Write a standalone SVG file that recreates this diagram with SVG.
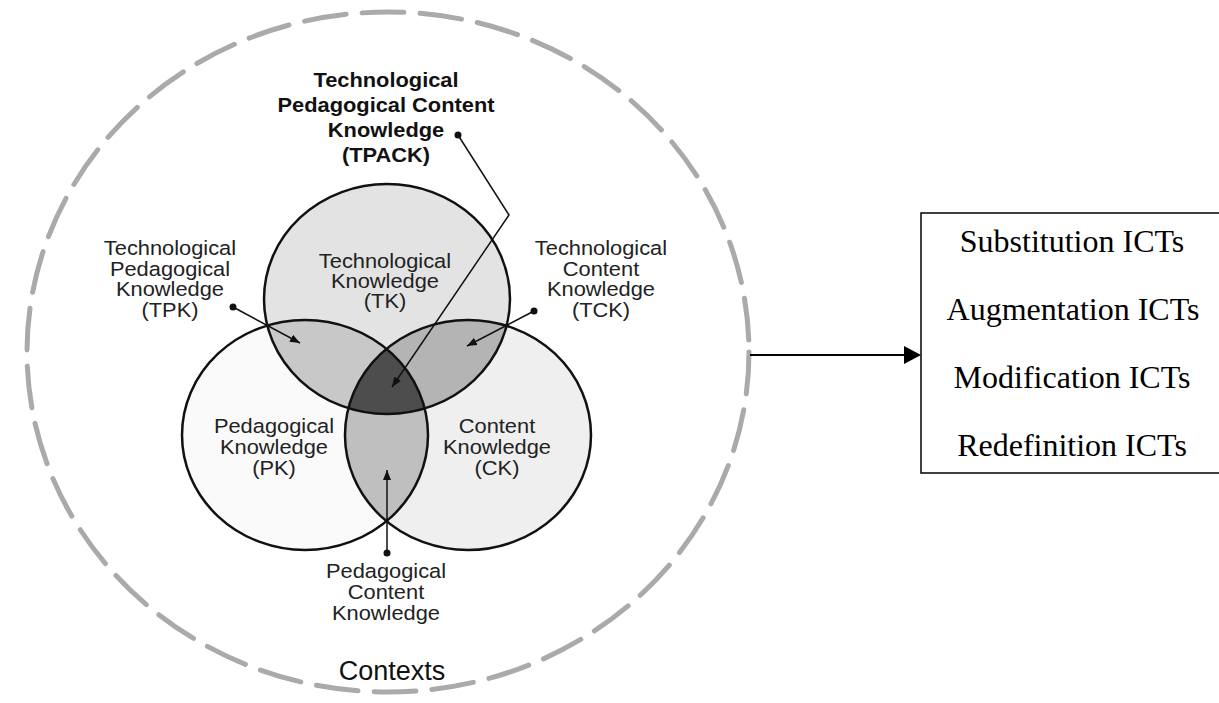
<svg xmlns="http://www.w3.org/2000/svg" width="1219" height="703" viewBox="0 0 1219 703">
<style>
.lbl{font-family:"Liberation Sans",Arial,sans-serif;font-size:19.5px;fill:#222;text-anchor:middle}
.bold{font-weight:bold;fill:#111}
.ctx{font-family:"Liberation Sans",Arial,sans-serif;font-size:27px;fill:#111;text-anchor:middle}
.ict{font-family:"Liberation Serif","Times New Roman",serif;font-size:32px;fill:#000;text-anchor:middle}
.ring{fill:none;stroke:#111;stroke-width:2.5}
.lead{fill:none;stroke:#111;stroke-width:1.5}
.dot{fill:#111}
</style>
<defs>
<marker id="ah" viewBox="0 0 10 10" refX="10" refY="5" markerWidth="10" markerHeight="10" markerUnits="userSpaceOnUse" orient="auto">
<path d="M0,1 L10,5 L0,9 z" fill="#111"/>
</marker>
<clipPath id="cTK"><ellipse cx="387" cy="299" rx="123" ry="115"/></clipPath>
<clipPath id="cPK"><ellipse cx="305" cy="435" rx="123" ry="115"/></clipPath>
</defs>
<rect width="1219" height="703" fill="#fff"/>

<g id="contexts">
<ellipse cx="388" cy="352" rx="361" ry="340" fill="none" stroke="#aaa" stroke-width="5" stroke-linecap="round" pathLength="2200" stroke-dasharray="42 16"/>
<text class="ctx" x="392" y="680">Contexts</text>
</g>

<g id="venn-fills">
<ellipse cx="305" cy="435" rx="123" ry="115" fill="#fafafa"/>
<ellipse cx="468" cy="435" rx="123" ry="115" fill="#efefef"/>
<ellipse cx="387" cy="299" rx="123" ry="115" fill="#e3e3e3"/>
<g clip-path="url(#cTK)"><ellipse cx="305" cy="435" rx="123" ry="115" fill="#c8c8c8"/><ellipse cx="468" cy="435" rx="123" ry="115" fill="#b4b4b4"/></g>
<g clip-path="url(#cPK)"><ellipse cx="468" cy="435" rx="123" ry="115" fill="#bfbfbf"/></g>
<g clip-path="url(#cTK)"><g clip-path="url(#cPK)"><ellipse cx="468" cy="435" rx="123" ry="115" fill="#4d4d4d"/></g></g>
</g>

<g id="TK">
<ellipse class="ring" cx="387" cy="299" rx="123" ry="115"/>
<text class="lbl" transform="matrix(1.12 0 0 1 -46.2 0)"><tspan x="385" y="268">Technological</tspan><tspan x="385" y="288">Knowledge</tspan><tspan x="385" y="308">(TK)</tspan></text>
</g>
<g id="PK">
<ellipse class="ring" cx="305" cy="435" rx="123" ry="115"/>
<text class="lbl" transform="matrix(1.12 0 0 1 -32.88 0)"><tspan x="274" y="433">Pedagogical</tspan><tspan x="274" y="454">Knowledge</tspan><tspan x="274" y="475">(PK)</tspan></text>
</g>
<g id="CK">
<ellipse class="ring" cx="468" cy="435" rx="123" ry="115"/>
<text class="lbl" transform="matrix(1.12 0 0 1 -59.64 0)"><tspan x="497" y="433">Content</tspan><tspan x="497" y="454">Knowledge</tspan><tspan x="497" y="475">(CK)</tspan></text>
</g>

<g id="TPACK-label">
<text class="lbl bold" transform="matrix(1.12 0 0 1 -46.32 0)"><tspan x="386" y="87">Technological</tspan><tspan x="386" y="112">Pedagogical Content</tspan><tspan x="386" y="137">Knowledge</tspan><tspan x="386" y="162">(TPACK)</tspan></text>
</g>
<g id="TPK-label">
<text class="lbl" transform="matrix(1.12 0 0 1 -20.4 0)"><tspan x="170" y="255">Technological</tspan><tspan x="170" y="276">Pedagogical</tspan><tspan x="170" y="296">Knowledge</tspan><tspan x="170" y="317">(TPK)</tspan></text>
</g>
<g id="TCK-label">
<text class="lbl" transform="matrix(1.12 0 0 1 -72.12 0)"><tspan x="601" y="255">Technological</tspan><tspan x="601" y="276">Content</tspan><tspan x="601" y="296">Knowledge</tspan><tspan x="601" y="317">(TCK)</tspan></text>
</g>
<g id="PCK-label">
<text class="lbl" transform="matrix(1.12 0 0 1 -46.32 0)"><tspan x="386" y="578">Pedagogical</tspan><tspan x="386" y="599">Content</tspan><tspan x="386" y="620">Knowledge</tspan></text>
</g>

<g id="ict-box">
<rect x="921" y="213" width="320" height="260" fill="#fff" stroke="#000" stroke-width="1.5"/>
<text class="ict" x="1072" y="252">Substitution ICTs</text>
<text class="ict" x="1073" y="320">Augmentation ICTs</text>
<text class="ict" x="1072" y="388">Modification ICTs</text>
<text class="ict" x="1072" y="456">Redefinition ICTs</text>
</g>

<g id="connectors">
<polyline class="lead" points="458,135 509,215 392,387" marker-end="url(#ah)"/>
<circle class="dot" cx="458" cy="135" r="3.5"/>
<line class="lead" x1="233" y1="307" x2="300" y2="343" marker-end="url(#ah)"/>
<circle class="dot" cx="233" cy="307" r="3.5"/>
<line class="lead" x1="534" y1="311" x2="467" y2="346" marker-end="url(#ah)"/>
<circle class="dot" cx="534" cy="311" r="3.5"/>
<line class="lead" x1="387" y1="553" x2="387" y2="470" marker-end="url(#ah)"/>
<circle class="dot" cx="387" cy="553" r="3.5"/>
<line x1="750" y1="355" x2="906" y2="355" stroke="#000" stroke-width="2"/>
<path d="M921,355 L904,346 L904,364 z" fill="#000"/>
</g>
</svg>
